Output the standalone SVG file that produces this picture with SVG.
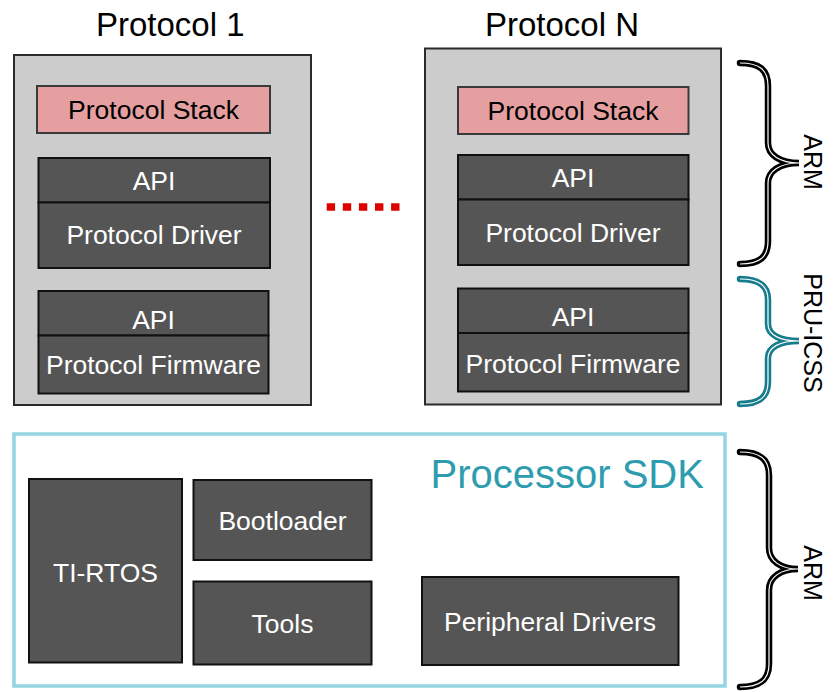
<svg xmlns="http://www.w3.org/2000/svg" width="837" height="692" viewBox="0 0 837 692">
<style>
text{font-family:"Liberation Sans",Arial,sans-serif;}
.title{font-size:33px;fill:#000;}
.outer{fill:#CCCCCC;stroke:#2b2b2b;stroke-width:2;}
.stack{fill:#E69FA1;stroke:#3a3a3a;stroke-width:2;}
.dark{fill:#555555;stroke:#111;stroke-width:2;}
.lbl{font-size:26.5px;fill:#fff;text-anchor:middle;}
.lblk{font-size:26.5px;fill:#000;text-anchor:middle;}
.braceB{fill:none;stroke:#000;stroke-width:6.5;stroke-linecap:round;}
.braceT{fill:none;stroke:#167C8B;stroke-width:6.5;stroke-linecap:round;}
.braceW{fill:none;stroke:#fff;stroke-width:1.2;}
.side{font-size:25px;fill:#000;text-anchor:middle;}
</style>
<rect width="837" height="692" fill="#fff"/>
<text class="title" x="96" y="36">Protocol 1</text>
<text class="title" x="485" y="36">Protocol N</text>
<g id="protocol1">
<rect class="outer" x="14" y="55" width="297" height="350"/>
<g id="p1-stack"><rect class="stack" x="37" y="86" width="233" height="47"/><text class="lblk" x="153.5" y="118.5">Protocol Stack</text></g>
<g id="p1-api1"><rect class="dark" x="38.5" y="158" width="231.5" height="44.5"/><text class="lbl" x="154" y="190">API</text></g>
<g id="p1-driver"><rect class="dark" x="38.5" y="202.5" width="231.5" height="65.5"/><text class="lbl" x="154" y="244">Protocol Driver</text></g>
<g id="p1-api2"><rect class="dark" x="38.5" y="291" width="230" height="44.5"/><text class="lbl" x="153.5" y="328.5">API</text></g>
<g id="p1-firmware"><rect class="dark" x="38.5" y="335.5" width="230" height="58"/><text class="lbl" x="153.5" y="373.5">Protocol Firmware</text></g>
</g>
<g id="protocolN">
<rect class="outer" x="425" y="48.5" width="296" height="356"/>
<g id="pn-stack"><rect class="stack" x="458" y="87" width="230.5" height="47"/><text class="lblk" x="573" y="120">Protocol Stack</text></g>
<g id="pn-api1"><rect class="dark" x="458" y="155" width="230.5" height="44.5"/><text class="lbl" x="573" y="187">API</text></g>
<g id="pn-driver"><rect class="dark" x="458" y="199.5" width="230.5" height="65.5"/><text class="lbl" x="573" y="242">Protocol Driver</text></g>
<g id="pn-api2"><rect class="dark" x="458" y="288.5" width="230.5" height="44.5"/><text class="lbl" x="573" y="325.5">API</text></g>
<g id="pn-firmware"><rect class="dark" x="458" y="333" width="230.5" height="58.5"/><text class="lbl" x="573" y="372.5">Protocol Firmware</text></g>
</g>
<g id="connectors">
<line x1="326.7" y1="207" x2="400" y2="207" stroke="#E00000" stroke-width="7.5" stroke-dasharray="8.4 7.7"/>
</g>
<g id="sdk">
<rect x="14" y="434" width="711" height="252" fill="#fff" stroke="#93D5E2" stroke-width="3.5"/>
<text x="430.5" y="488" font-size="40" fill="#2E9CAF">Processor SDK</text>
<g id="tirtos"><rect class="dark" x="29" y="479" width="153" height="183.5"/><text class="lbl" x="105.5" y="582">TI-RTOS</text></g>
<g id="bootloader"><rect class="dark" x="193.5" y="480" width="178" height="80"/><text class="lbl" x="282.5" y="530">Bootloader</text></g>
<g id="tools"><rect class="dark" x="193.5" y="581.5" width="178" height="83"/><text class="lbl" x="282.5" y="633">Tools</text></g>
<g id="periph"><rect class="dark" x="422" y="577" width="256.5" height="88"/><text class="lbl" x="550" y="631">Peripheral Drivers</text></g>
</g>
<g id="brace-arm-top">
<path class="braceB" d="M740,63 C760,63 768,70 768,86 L768,143 C768,155 780,163 799,163 C780,163 768,171 768,183 L768,241 C768,257 760,264 740,264"/>
<path class="braceW" d="M740,63 C760,63 768,70 768,86 L768,143 C768,155 780,163 799,163 C780,163 768,171 768,183 L768,241 C768,257 760,264 740,264"/>
<text class="side" transform="translate(804,162) rotate(90)">ARM</text>
</g>
<g id="brace-pru">
<path class="braceT" d="M740,279 C760,279 768,286 768,300 L768,324 C768,335 780,341 799,341 C780,341 768,347 768,358 L768,382 C768,397 760,404 740,404"/>
<path class="braceW" d="M740,279 C760,279 768,286 768,300 L768,324 C768,335 780,341 799,341 C780,341 768,347 768,358 L768,382 C768,397 760,404 740,404"/>
<text class="side" transform="translate(804,333) rotate(90)">PRU-ICSS</text>
</g>
<g id="brace-arm-bottom">
<path class="braceB" d="M740,452 C760,452 769,459 769,475 L769,548 C769,561 781,569 798,569 C781,569 769,577 769,590 L769,664 C769,680 760,687 740,687"/>
<path class="braceW" d="M740,452 C760,452 769,459 769,475 L769,548 C769,561 781,569 798,569 C781,569 769,577 769,590 L769,664 C769,680 760,687 740,687"/>
<text class="side" transform="translate(804,573) rotate(90)">ARM</text>
</g>
</svg>
